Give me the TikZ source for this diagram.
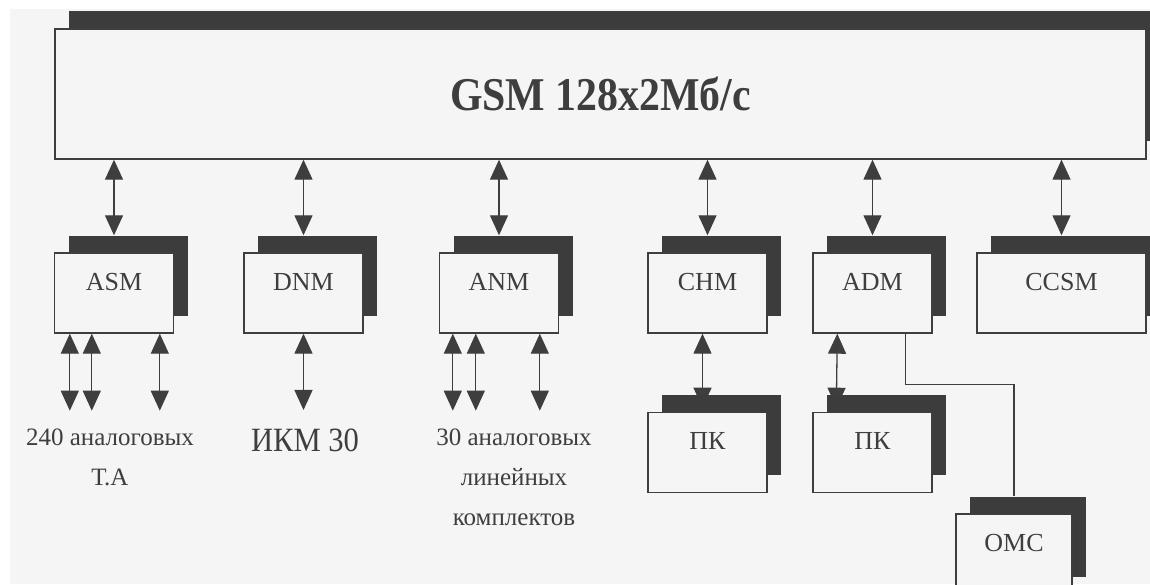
\documentclass[tikz,border=0pt]{standalone}
\usepackage{fontspec}
\setmainfont{Liberation Serif}
\usepackage{graphicx}
\usetikzlibrary{arrows.meta, positioning, calc, shadows}

\pgfdeclarelayer{paper}
\pgfdeclarelayer{wires}
\pgfsetlayers{paper,wires,main}

\definecolor{paperbg}{HTML}{F5F5F5}
\definecolor{shade}{HTML}{3C3C3C}
\definecolor{ink}{HTML}{3E3E3E}

\begin{document}
\begin{tikzpicture}[x=1pt, y=1pt, >={Triangle[length=20pt, width=18pt]}]
  % Styles
  \tikzstyle{bus} = [rectangle, draw=ink, line width=1.4pt, fill=paperbg, minimum width=1091pt, minimum height=130pt, text=ink, font=\fontsize{47}{52}\selectfont\bfseries, general shadow={fill=shade, shadow xshift=14pt, shadow yshift=18pt}]
  \tikzstyle{module} = [rectangle, draw=ink, line width=1.4pt, fill=paperbg, minimum width=119pt, minimum height=80pt, text height=18pt, text depth=23pt, text=ink, font=\fontsize{26}{30}\selectfont, general shadow={fill=shade, shadow xshift=14pt, shadow yshift=17pt}]
  \tikzstyle{note} = [align=center, inner sep=0pt, text=ink, font=\fontsize{25}{40}\selectfont]
  \tikzstyle{dbl} = [draw=ink, line width=1.3pt, <->]
  \tikzstyle{wire} = [draw=ink, line width=1.3pt, -]

  \useasboundingbox (0,0) rectangle (1150,585);
  \begin{pgfonlayer}{paper}
    \fill[white] (0,0) rectangle (1150,585);
    \fill[paperbg] (10,1) rectangle (1150,576);
  \end{pgfonlayer}

  \begin{scope}
  \clip (0,0) rectangle (1150,585);

  % Switching field
  \node[bus] (GSM) at (600.5,491) {\scalebox{0.89}[1]{GSM 128x2Мб/с}};

  % Modules
  \node[module] (ASM) at (114,292) {ASM};
  \node[module] (DNM) at (303.5,292) {DNM};
  \node[module] (ANM) at (499,292) {ANM};
  \node[module] (CHM) at (707.5,292) {CHM};
  \node[module] (ADM) at (872.5,292) {ADM};
  \node[module, minimum width=169pt] (CCSM) at (1061.5,292) {CCSM};

  % Terminals
  \node[module, below=78pt of CHM] (PC1) {ПК};
  \node[module, below=78pt of ADM] (PC2) {ПК};
  \node[module, minimum width=116pt] (OMC) at (1014,31) {OMC};

  % Captions
  \coordinate (tips) at (0,175);
  \node[note, anchor=north] (TA) at (110,156) {240 аналоговых\\Т.А};
  \node[note, anchor=base, font=\fontsize{34}{40}\selectfont] (PCM) at (305,133) {\scalebox{0.9}[1]{ИКМ 30}};
  \node[note, anchor=north] (LK) at (514,156) {30 аналоговых\\линейных\\комплектов};
  \end{scope}

  % Connections
  \begin{pgfonlayer}{wires}
    \foreach \m in {ASM,DNM,ANM,CHM,ADM,CCSM}
      \draw[dbl] (GSM.south -| \m.north) -- ([yshift=17pt]\m.north);

    \foreach \dx in {16,38,106}
      \draw[dbl] ($(ASM.south west)+(\dx,0)$) -- ($(ASM.south west)+(\dx,-77)$);
    \draw[dbl] (DNM.south) -- (DNM.south |- tips);
    \foreach \dx in {14,37,101}
      \draw[dbl] ($(ANM.south west)+(\dx,0)$) -- ($(ANM.south west)+(\dx,-77)$);

    \draw[dbl] ([xshift=-5pt]CHM.south) -- ([shift={(-5pt,4pt)}]PC1.north);
    \draw[dbl] ($(ADM.south west)+(25,0)$) -- ($(PC2.north west)+(24,4)$);
    \draw[wire] ($(ADM.south east)+(-27,0)$) -- ++(0,-51) -| ([yshift=17pt]OMC.north);
  \end{pgfonlayer}
\end{tikzpicture}
\end{document}
